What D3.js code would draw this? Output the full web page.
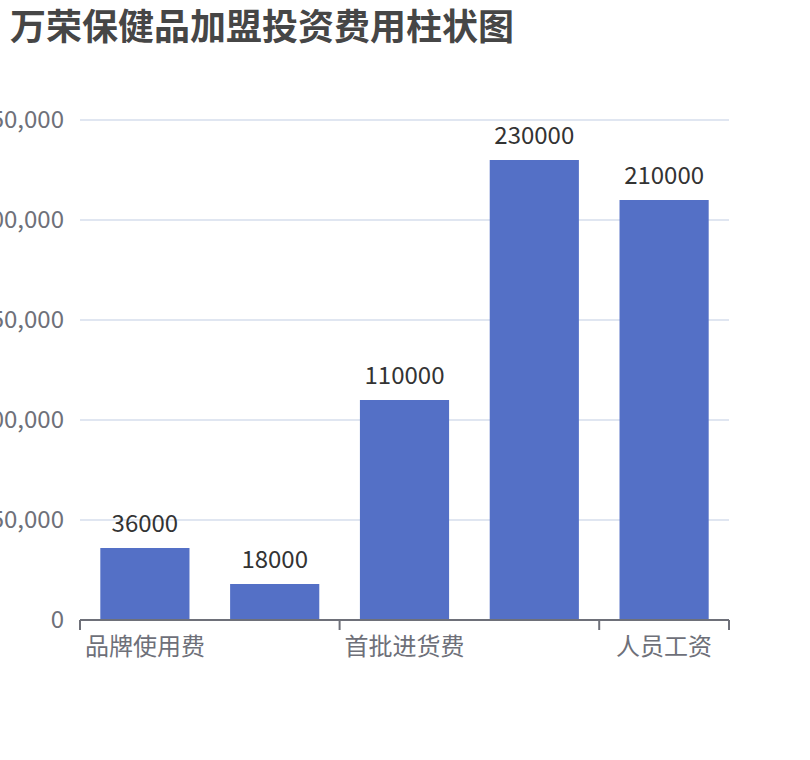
<!DOCTYPE html>
<html><head><meta charset="utf-8">
<script src="https://cdn.jsdelivr.net/npm/d3@7/dist/d3.min.js"></script>
<style>body{margin:0;background:#fff;} svg{display:block;font-family:"Noto Sans CJK SC","Noto Sans",sans-serif;}</style>
</head><body>
<svg id="c" width="810" height="760"></svg>
<script>
const title = "万荣保健品加盟投资费用柱状图";
const categories = ["品牌使用费", "保证金", "首批进货费", "店面装修费", "人员工资"];
const values = [36000, 18000, 110000, 230000, 210000];
const yTicks = [0, 50000, 100000, 150000, 200000, 250000];
const shownLabels = [0, 2, 4];

const svg = d3.select("#c");
const L = 80, R = 729, T = 120, B = 620;
const x = d3.scaleBand().domain(categories).range([L, R]).paddingInner(0.313).paddingOuter(0.1565);
const band = d3.scaleBand().domain(categories).range([L, R]);
const y = d3.scaleLinear().domain([0, 250000]).range([B, T]);

svg.append("text").attr("x", 10).attr("y", 40).attr("font-size", 36).attr("font-weight", "bold")
  .attr("fill", "#464646").text(title);

// grid
svg.append("g").selectAll("line").data(yTicks.filter(d => d > 0)).join("line")
  .attr("x1", L).attr("x2", R).attr("y1", d => y(d)).attr("y2", d => y(d))
  .attr("stroke", "#e0e6f1").attr("stroke-width", 2);

// y labels
const fmt = d3.format(",");
svg.append("g").selectAll("text").data(yTicks).join("text")
  .attr("x", 64).attr("y", d => y(d)).attr("dy", "0.35em").attr("text-anchor", "end")
  .attr("font-size", 24).attr("fill", "#6e7079").text(d => fmt(d));

// bars
svg.append("g").selectAll("rect").data(values).join("rect")
  .attr("x", (d, i) => x(categories[i])).attr("width", x.bandwidth())
  .attr("y", d => y(d)).attr("height", d => B - y(d)).attr("fill", "#5470c6");

// bar labels
svg.append("g").selectAll("text").data(values).join("text")
  .attr("x", (d, i) => x(categories[i]) + x.bandwidth() / 2).attr("y", d => y(d) - 16)
  .attr("text-anchor", "middle").attr("font-size", 24).attr("fill", "#333").text(d => d);

// x axis
svg.append("line").attr("x1", L).attr("x2", R).attr("y1", B).attr("y2", B)
  .attr("stroke", "#6e7079").attr("stroke-width", 2);
const tickPos = [0, 2, 4].map(i => band(categories[i])).concat([R]);
svg.append("g").selectAll("line").data(tickPos).join("line")
  .attr("x1", d => d).attr("x2", d => d).attr("y1", B).attr("y2", B + 10)
  .attr("stroke", "#6e7079").attr("stroke-width", 2);
svg.append("g").selectAll("text").data(shownLabels).join("text")
  .attr("x", i => band(categories[i]) + band.bandwidth() / 2).attr("y", 655)
  .attr("text-anchor", "middle").attr("font-size", 24).attr("fill", "#6e7079")
  .text(i => categories[i]);
</script>
</body></html>
